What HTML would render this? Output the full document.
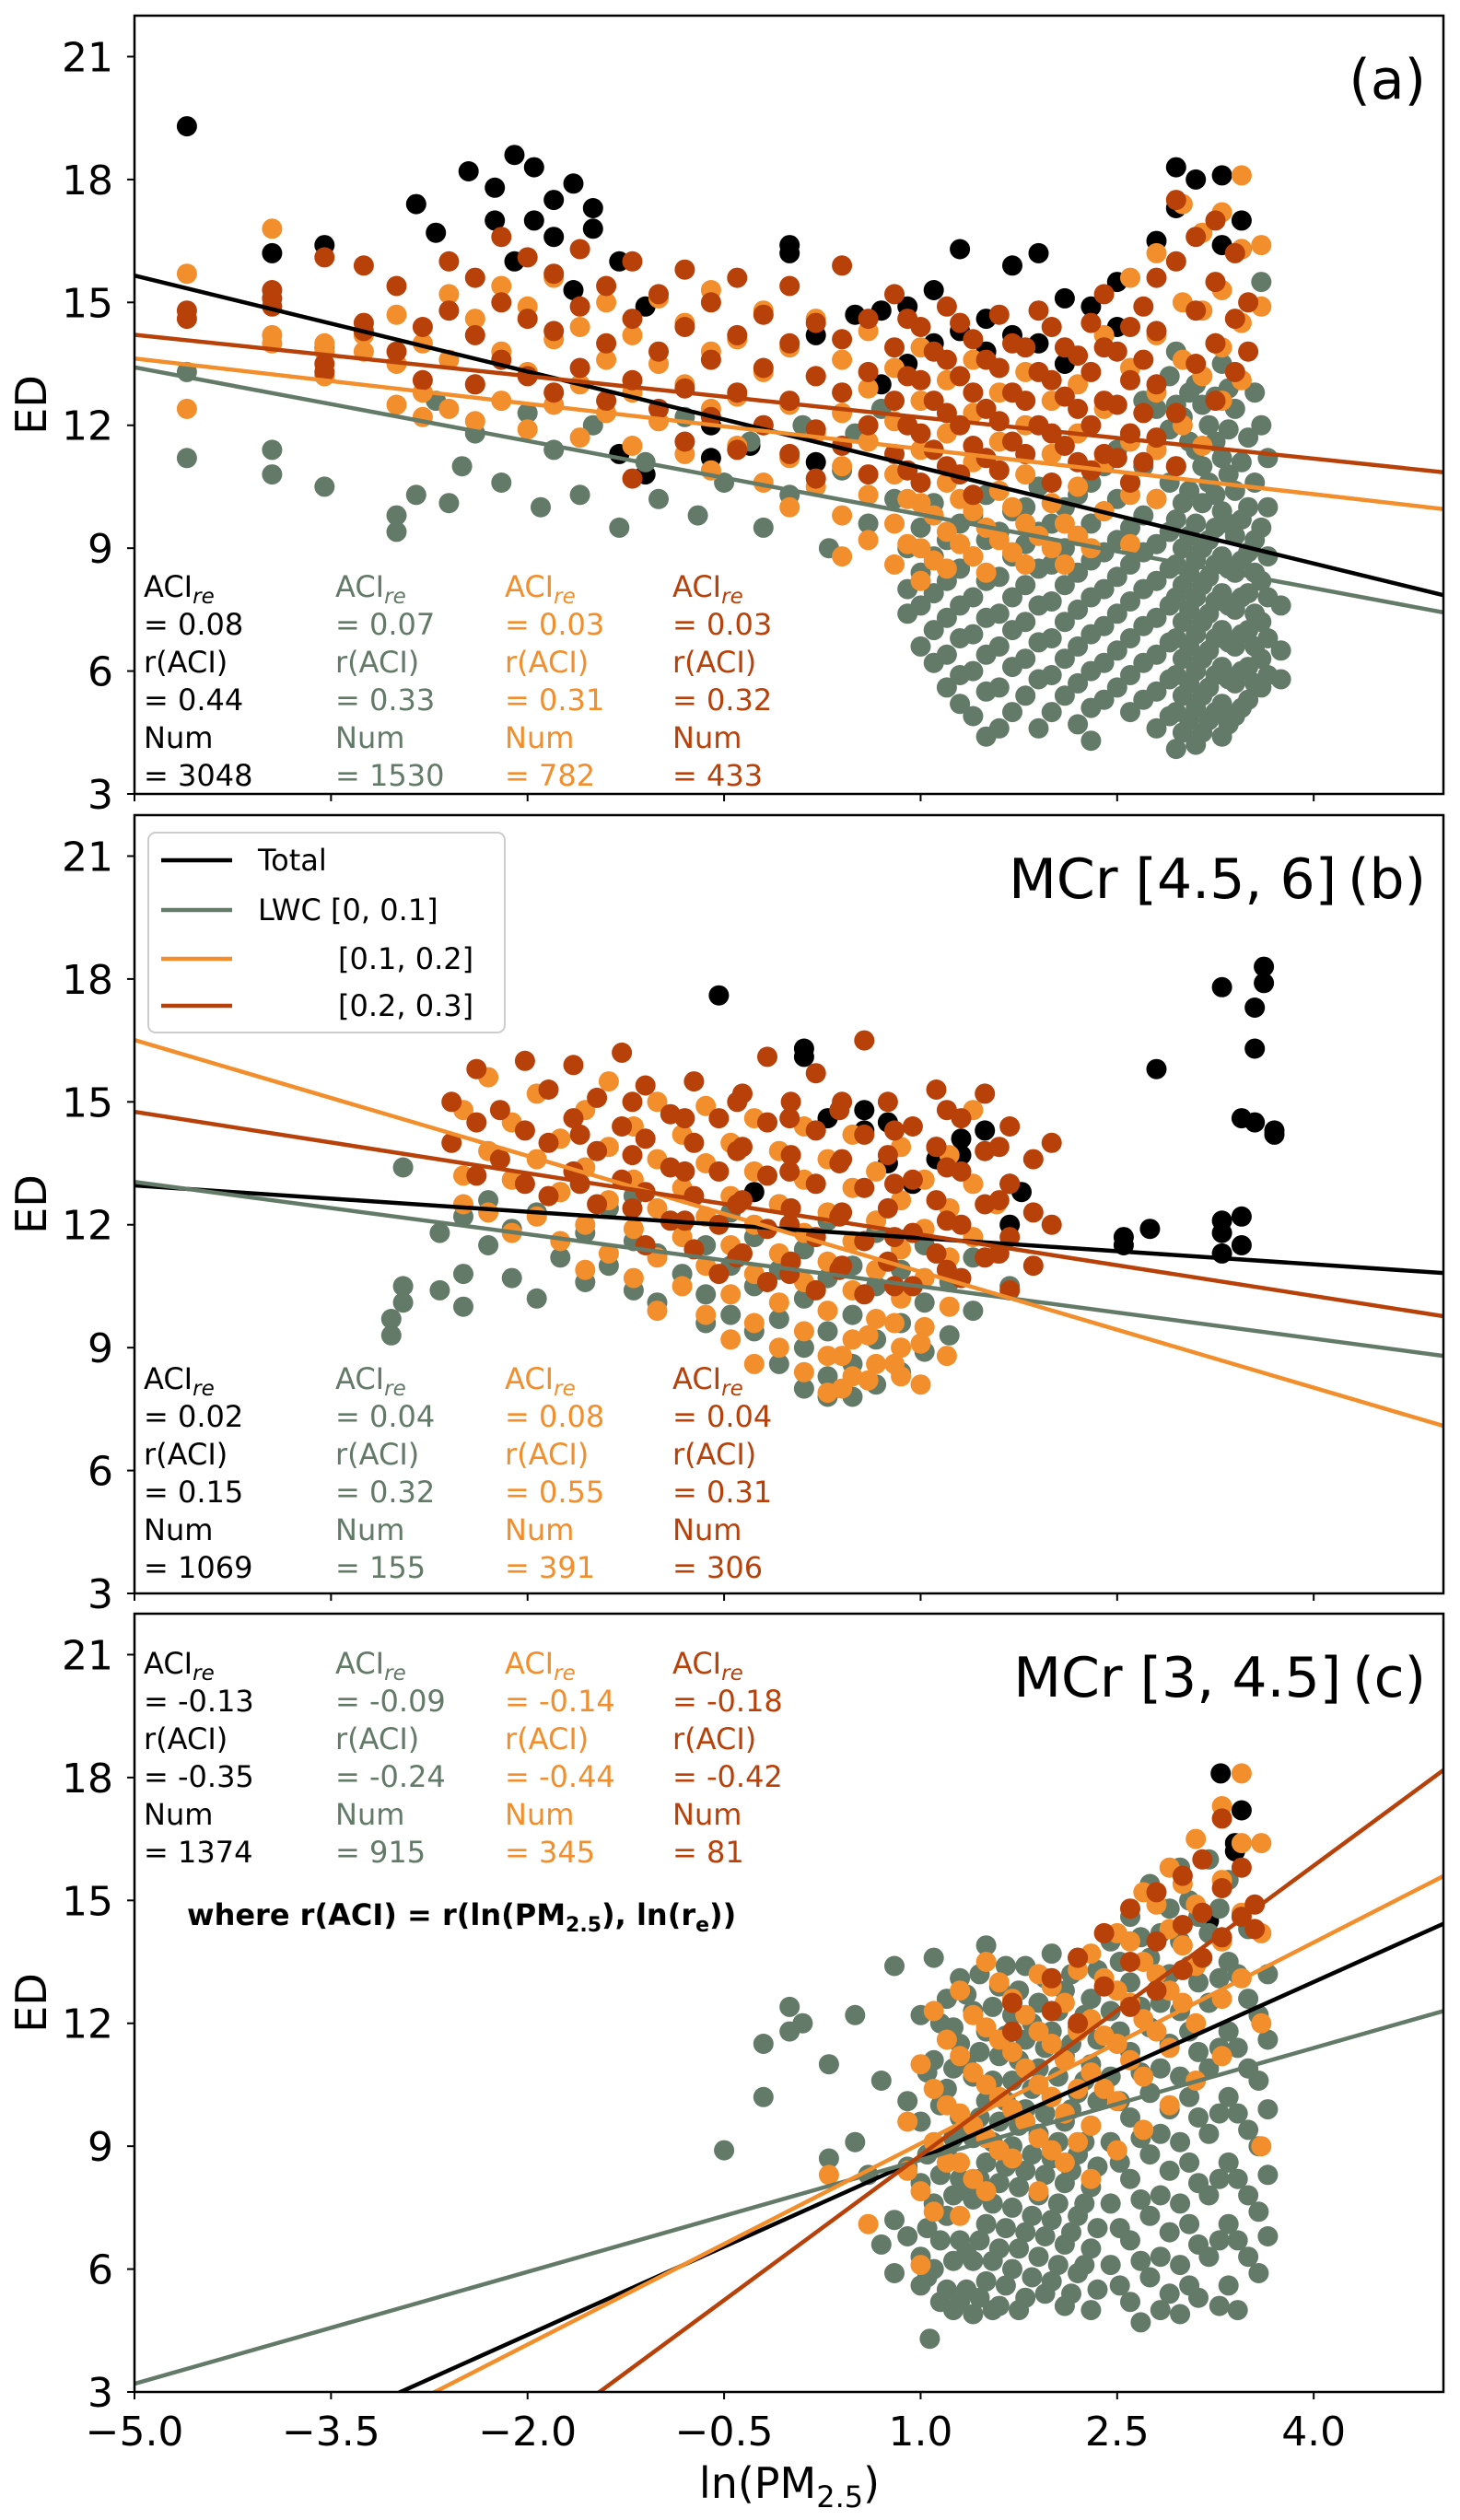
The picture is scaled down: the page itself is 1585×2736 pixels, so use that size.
<!DOCTYPE html>
<html><head><meta charset="utf-8">
<style>
html,body{margin:0;padding:0;background:#fff;overflow:hidden;}
svg{display:block;font-family:"DejaVu Sans","Liberation Sans",sans-serif;}
</style></head>
<body>
<svg id="fig" xmlns="http://www.w3.org/2000/svg" width="1585" height="2736" viewBox="0 0 1585 2736">
<rect x="0" y="0" width="1585" height="2736" fill="#fff"/>
</svg>
<script>
// ---------- data ----------
const xTicks=[-5.0,-3.5,-2.0,-0.5,1.0,2.5,4.0];
const xTickLabels=["\u22125.0","\u22123.5","\u22122.0","\u22120.5","1.0","2.5","4.0"];
const yTicks=[3,6,9,12,15,18,21];
const seriesNames=["Total","LWC [0, 0.1]","[0.1, 0.2]","[0.2, 0.3]"];
const colors=["#000000","#627a67","#f28e2b","#b84009"];

// panel (a) scatter: [x,[y...]]
const aBlack=[[-4.6,[19.3]],[-3.95,[16.2]],[-3.55,[16.4]],[-2.85,[17.4]],[-2.7,[16.7]],[-2.45,[18.2]],[-2.25,[17.8,17.0]],[-2.1,[18.6,16.0]],[-1.95,[18.3,17.0]],[-1.8,[17.5,16.6]],[-1.65,[17.9,15.3]],[-1.5,[17.3,16.8]],[-1.3,[16.0,11.3]],[-1.1,[14.9,10.8]],[-0.6,[11.2,12.0]],[-0.3,[11.5]],[0.0,[16.4,16.2]],[0.2,[14.2,11.1]],[0.5,[14.7]],[0.7,[14.8,13.0]],[0.9,[14.9,13.5]],[1.1,[15.3,14.0]],[1.3,[16.3,14.3]],[1.5,[14.6,13.8]],[1.7,[15.9,14.2]],[1.9,[16.2,14.0]],[2.1,[15.1,13.5]],[2.3,[14.9]],[2.5,[15.5,14.4]],[2.8,[16.5]],[2.95,[18.3,17.3]],[3.1,[18.0]],[3.3,[18.1,16.4]],[3.45,[17.0,16.3]]];
const aGray=[[-4.6,[13.3,11.2]],[-3.95,[11.4,10.8]],[-3.55,[10.5,13.9]],[-3.0,[9.4,9.8]],[-2.85,[10.3]],[-2.7,[12.6]],[-2.6,[10.1]],[-2.5,[11.0]],[-2.4,[11.8]],[-2.2,[10.6]],[-2.0,[12.3]],[-1.9,[10.0]],[-1.8,[11.4]],[-1.6,[10.3]],[-1.5,[12.0]],[-1.3,[9.5]],[-1.1,[11.1]],[-1.0,[10.2]],[-0.8,[12.2]],[-0.7,[9.8]],[-0.5,[10.6]],[-0.3,[11.6]],[-0.2,[9.5]],[0.0,[10.3]],[0.1,[12.0]],[0.3,[9.0]],[0.4,[10.9]],[0.5,[11.8]],[0.6,[9.6]],[0.7,[12.4]],[0.8,[10.2]],[0.9,[9.0,8.0,7.4]],[1.1,[10.1,8.8,7.9,7.0,6.2]],[1.3,[9.6,8.5,7.6,6.8,5.9,5.2]],[1.5,[10.3,9.2,8.2,7.3,6.4,5.5,4.4]],[1.7,[9.9,8.8,7.8,7.0,6.1,5.0]],[1.9,[10.5,9.4,8.5,7.6,6.7,5.8,4.6]],[2.1,[10.0,9.0,8.1,7.2,6.3,5.4]],[2.3,[10.6,9.6,8.7,7.8,6.9,6.0,5.1,4.3]],[2.5,[11.4,10.2,9.2,8.3,7.4,6.5,5.6]],[2.7,[12.6,11.0,9.8,8.9,8.0,7.1,6.2,5.3]],[2.9,[13.2,11.9,10.6,9.4,8.5,7.6,6.7,5.8,4.9]],[3.0,[12.2,10.1,9.0,8.1,7.2,6.3,5.4,4.5]],[3.1,[13.0,11.4,9.6,8.7,7.8,6.9,6.0,5.1,4.2]],[3.2,[12.0,10.6,9.2,8.3,7.4,6.5,5.6,4.8]],[3.3,[13.5,11.2,9.9,8.8,7.9,7.0,6.1,5.2,4.4]],[3.4,[12.4,10.4,9.3,8.4,7.5,6.6,5.7,4.9]],[3.5,[11.7,10.0,8.9,7.9,7.0,6.1,5.3]],[3.6,[15.5,12.0,9.5,8.2,7.2,6.3,5.6]],[3.75,[7.6,6.5,5.8]],
 [1.0,[9.5,8.4,7.6,6.6]],[1.2,[9.2,8.2,7.3,6.4,5.6]],[1.4,[9.8,8.8,7.8,6.9,6.0,4.9]],[1.6,[9.4,8.3,7.4,6.6,5.6,4.6]],[1.8,[10.0,9.1,8.1,7.2,6.3,5.4]],[2.0,[9.6,8.6,7.7,6.8,5.9,5.0]],[2.2,[10.3,9.3,8.4,7.5,6.6,5.7,4.7]],[2.4,[11.0,9.9,8.9,8.0,7.1,6.2,5.3]],[2.6,[11.8,10.6,9.5,8.6,7.7,6.8,5.9,5.0]],[2.8,[12.4,11.4,10.2,9.1,8.2,7.3,6.4,5.5,4.6]],[2.95,[13.8,12.5,11.0,9.7,8.6,7.8,6.8,5.9,5.0,4.1]],[3.05,[12.8,11.6,10.4,9.3,8.4,7.5,6.6,5.7,4.8]],[3.15,[12.5,11.0,10.1,9.0,8.1,7.2,6.3,5.4,4.5]],[3.25,[14.0,12.7,11.6,10.3,9.5,8.6,7.7,6.8,5.9,5.0]],[3.35,[12.9,11.9,10.8,9.6,8.5,7.6,6.7,5.8,4.7]],[3.45,[11.1,9.7,8.7,7.8,6.9,6.0,5.1]],[3.55,[12.8,10.6,9.2,8.4,7.4,6.6,5.7]],[3.65,[11.2,10.0,8.8,7.8,6.8,5.9]]];
const aOrange=[[-4.6,[15.7,12.4]],[-3.95,[16.8,14.2,14.0]],[-3.55,[14.0,13.8,13.2]],[-3.25,[14.2,13.8]],[-3.0,[14.7,13.5,12.5]],[-2.8,[14.0,12.8,12.2]],[-2.6,[15.2,13.6,12.4]],[-2.4,[14.6,13.0,12.1]],[-2.2,[15.4,13.8,12.6]],[-2.0,[14.9,13.3,11.9]],[-1.8,[15.6,14.1,12.5]],[-1.6,[14.4,13.0,11.7]],[-1.4,[15.0,13.6,12.3]],[-1.2,[14.2,12.8,11.5]],[-1.0,[15.1,13.5,12.1]],[-0.8,[14.5,13.0,11.3]],[-0.6,[15.3,13.8,12.4,10.9]],[-0.4,[14.1,12.7,11.5]],[-0.2,[14.8,13.3,12.0,10.6]],[0.0,[13.9,12.5,11.2,10.0]],[0.2,[14.6,13.2,11.8,10.5]],[0.4,[13.6,12.3,11.0,9.8,8.8]],[0.6,[14.3,12.9,11.6,10.3,9.2]],[0.8,[13.4,12.1,10.8,9.6,8.6]],[1.0,[13.9,12.6,11.4,10.1,9.0,8.2]],[1.2,[13.1,11.8,10.6,9.4,8.5]],[1.4,[13.6,12.3,11.1,9.9,8.8]],[1.6,[12.8,11.6,10.4,9.2]],[1.8,[13.3,12.0,10.8,9.6,8.6]],[2.0,[12.6,11.3,10.1,9.0]],[2.2,[13.0,11.8,10.5,9.3]],[2.4,[14.2,12.4,11.1,9.9]],[2.6,[15.6,13.4,11.6,10.3,9.1]],[2.8,[16.2,14.2,12.8,11.4,10.2]],[3.0,[17.4,15.0,13.6,12.0]],[3.15,[16.7,14.8,13.2,11.5]],[3.3,[17.2,15.3,13.9,12.6]],[3.45,[18.1,16.3,14.5,13.1]],[3.6,[16.4,14.9]],
 [0.9,[9.1,10.2]],[1.1,[8.7,9.8]],[1.3,[9.1,10.2]],[1.5,[8.4,9.5]],[1.7,[8.9,10.0]],[1.9,[9.3]],[2.1,[8.6,9.6]],[2.3,[9.0]]];
const aDark=[[-4.6,[14.8,14.6]],[-3.95,[15.3,15.1,14.9]],[-3.55,[16.1,13.5,13.3]],[-3.25,[15.9,14.5,14.3]],[-3.0,[15.4,13.8]],[-2.8,[14.4,13.1]],[-2.6,[16.0,14.8]],[-2.4,[15.6,14.2,13.0]],[-2.2,[16.6,15.0,13.6]],[-2.0,[16.1,14.6,13.2]],[-1.8,[15.7,14.3,12.8]],[-1.6,[16.3,14.9,13.4]],[-1.4,[15.4,14.0,12.6]],[-1.2,[16.0,14.6,13.1,10.7]],[-1.0,[15.2,13.8,12.4]],[-0.8,[15.8,14.4,12.9,11.6]],[-0.6,[15.0,13.6,12.2]],[-0.4,[15.6,14.2,12.8,11.4]],[-0.2,[14.7,13.4,12.0]],[0.0,[15.4,14.0,12.6,11.3]],[0.2,[14.5,13.2,11.9,10.7]],[0.4,[15.9,14.1,12.8,11.5]],[0.6,[14.6,13.3,12.0,10.8]],[0.8,[15.2,13.9,12.6,11.3]],[1.0,[14.4,13.1,11.8,10.6]],[1.2,[14.9,13.6,12.3,11.0]],[1.4,[14.1,12.8,11.5,10.3]],[1.6,[14.7,13.4,12.1,10.9]],[1.8,[13.9,12.6,11.3]],[2.0,[14.4,13.1,11.8,10.6]],[2.2,[13.7,12.4,11.1]],[2.4,[15.2,13.9,12.6,11.3]],[2.6,[14.4,13.1,11.8,10.6]],[2.8,[15.6,14.3,13.0,11.7]],[2.95,[17.5,16.0,12.3,11.0]],[3.1,[16.6,14.8,13.5]],[3.25,[17.0,15.5,14.0,12.6]],[3.4,[16.2,14.6,13.3]],[3.5,[15.0,13.8]],
 [0.9,[14.6,13.2,12.0,10.9]],[1.1,[13.8,12.6,11.4]],[1.3,[14.5,13.2,12.0,10.8]],[1.5,[13.6,12.4,11.2]],[1.7,[14.0,12.8,11.6]],[1.9,[14.8,13.3,12.0]],[2.1,[13.9,12.7,11.5]],[2.3,[14.5,13.3,12.0,10.9]],[2.5,[13.8,12.5,11.2]],[2.7,[14.9,13.6,12.3,11.1]]];

// panel (b)
const bBlack=[[-0.54,[17.6]],[0.11,[16.3,16.1]],[0.29,[14.6]],[0.57,[14.8,14.3]],[0.75,[14.5,13.5]],[1.12,[13.9,13.6]],[1.31,[14.1,13.7]],[1.49,[14.3]],[1.68,[13.0,12.0]],[1.77,[12.8]],[2.8,[15.8]],[2.55,[11.7,11.5]],[2.75,[11.9]],[3.3,[11.8,11.3,12.1,17.8]],[3.45,[14.6,12.2,11.5]],[3.55,[16.3,17.3,14.5]],[3.62,[18.3,17.9]],[3.7,[14.3,14.2]],[-0.27,[12.8]],[0.94,[13.0]]];
const bGray=[[-3.04,[9.7,9.3]],[-2.95,[13.4,10.5,10.1]],[-2.67,[11.8,10.4]],[-2.49,[12.2,10.8,10.0]],[-2.30,[11.5,12.6]],[-2.12,[10.7,11.9]],[-1.93,[12.3,10.2]],[-1.75,[11.2,12.8]],[-1.56,[10.6,11.8]],[-1.38,[12.4,11.0]],[-1.19,[10.4,11.6,12.7]],[-1.01,[11.3,10.1]],[-0.82,[12.0,10.8]],[-0.64,[11.5,10.3,9.6]],[-0.45,[12.3,11.0,9.8]],[-0.27,[11.7,10.5,9.4]],[-0.08,[12.5,10.9,9.7,8.6]],[0.11,[11.4,10.2,9.0,8.0]],[0.29,[12.1,10.7,9.4,8.3,7.8]],[0.48,[11.0,9.8,8.6,7.8]],[0.66,[11.8,10.5,9.2,8.1]],[0.85,[10.9,9.6,8.4]],[1.03,[11.5,10.1,8.9]],[1.22,[10.6,9.3]],[1.40,[11.2,9.9]],[1.68,[10.5]]];
const bOrange=[[-2.49,[14.8,13.2,12.5]],[-2.30,[15.6,13.8,12.3]],[-2.12,[14.5,13.1,11.8]],[-1.93,[15.2,13.6,12.2]],[-1.75,[14.1,12.8,11.6]],[-1.56,[14.8,13.4,12.0,10.9]],[-1.38,[15.5,13.9,12.6,11.3]],[-1.19,[14.4,13.1,11.9,10.7]],[-1.01,[15.0,13.6,12.4,11.2,9.9]],[-0.82,[14.2,12.9,11.7,10.5]],[-0.64,[14.9,13.5,12.2,11.0,9.8]],[-0.45,[14.0,12.7,11.5,10.3,9.2]],[-0.27,[14.6,13.3,12.0,10.8,9.6,8.6]],[-0.08,[13.8,12.5,11.3,10.1,9.0]],[0.11,[14.4,13.1,11.8,10.6,9.4,8.4]],[0.29,[13.6,12.3,11.1,9.9,8.8,7.9]],[0.48,[14.2,12.9,11.6,10.4,9.2,8.3]],[0.66,[13.3,12.1,10.9,9.7,8.6]],[0.85,[13.9,12.6,11.4,10.2,9.0,8.3]],[1.03,[13.1,11.9,10.7,9.5]],[1.22,[13.7,12.4,11.2,10.0]],[1.40,[14.8,13.0,11.7]],[1.58,[12.5,11.3]],
 [0.4,[8.8,8.0]],[0.6,[9.3,8.2]],[0.8,[8.6,9.6]],[1.0,[9.1,8.1]],[1.2,[8.8]]];
const bDark=[[-2.58,[15.0,14.0]],[-2.39,[15.8,14.5,13.2]],[-2.21,[14.8,13.6]],[-2.02,[16.0,14.3,13.0]],[-1.84,[15.3,14.0,12.7]],[-1.65,[15.9,14.6,13.3]],[-1.47,[15.1,13.8,12.5]],[-1.28,[16.2,14.4,13.1]],[-1.10,[15.4,14.1,12.8,11.5]],[-0.91,[14.7,13.4,12.1]],[-0.73,[15.5,14.0,12.7,11.4]],[-0.54,[14.6,13.3,12.0,10.8]],[-0.36,[15.2,13.9,12.6,11.3]],[-0.17,[16.1,14.5,13.2,11.9,10.6]],[0.01,[15.0,13.7,12.4,11.1]],[0.20,[15.7,14.3,13.0,11.7,10.4]],[0.38,[14.8,13.5,12.2,10.9]],[0.57,[16.5,14.2,12.9,11.6,10.3]],[0.75,[15.0,13.7,12.4,11.1]],[0.94,[14.4,13.1,11.8,10.5]],[1.12,[15.3,13.9,12.6,11.3]],[1.31,[14.6,13.3,12.0,10.7]],[1.49,[15.2,13.8,12.5,11.2]],[1.68,[14.4,13.0,11.7,10.4]],[1.86,[13.6,12.3,11.0]],[2.00,[14.0,12.0]],
 [-1.6,[14.2,13.0]],[-1.2,[15.0,13.7,12.4]],[-0.8,[14.6,13.3,12.1]],[-0.4,[15.0,13.8,12.5,11.2]],[0.0,[14.6,13.3,12.0,10.8]],[0.4,[15.0,13.6,12.3,11.0]],[0.8,[14.3,13.0,11.7,10.5]],[1.2,[14.8,13.4,12.1,10.9]],[1.6,[13.9,12.6,11.3]]];

// panel (c)
const cBlack=[[3.29,[18.1]],[3.4,[16.4,16.2]],[3.45,[17.2]],[3.2,[14.5]]];
const cGray=[[-0.5,[8.9]],[-0.2,[11.5,10.2]],[0.0,[12.4,11.8]],[0.1,[12.0]],[0.3,[8.7,11.0]],[0.5,[9.1,12.2]],[0.6,[8.3]],[0.7,[6.6,10.6]],[0.8,[13.4,7.2,5.9]],[0.9,[10.1,8.5,6.8]],[1.0,[12.2,9.6,8.1,6.3,5.6]],[1.07,[4.3]],[1.1,[13.6,11.1,9.0,7.6,6.0]],[1.2,[12.6,10.4,8.8,7.3,5.5]],[1.3,[13.1,11.5,9.7,8.2,6.7,5.2]],[1.4,[12.3,10.7,9.2,7.7,6.2,4.9]],[1.5,[13.9,11.8,10.1,8.6,7.1,5.7]],[1.6,[12.9,11.2,9.6,8.1,6.5,5.1]],[1.7,[12.2,10.6,9.0,7.5,6.0]],[1.8,[13.4,11.6,9.9,8.4,6.9,5.3]],[1.9,[12.5,10.9,9.3,7.8,6.3]],[2.0,[13.7,11.8,10.2,8.7,7.2,5.7]],[2.1,[12.8,11.2,9.6,8.1,6.6,5.1]],[2.2,[13.6,11.9,10.3,8.8,7.3,5.9]],[2.3,[12.6,11.0,9.5,8.0,6.5,5.0]],[2.45,[14.0,12.3,10.7,9.1,7.6,6.1]],[2.6,[14.6,13.0,11.3,9.7,8.2,6.7,5.2]],[2.75,[15.4,13.6,11.9,10.3,8.8,7.3,5.8]],[2.9,[14.8,13.2,11.5,9.9,8.4,6.9,5.4]],[3.05,[15.0,13.4,11.8,10.2,8.6,7.1,5.6]],[3.2,[16.0,14.2,12.5,10.9,9.3,7.8,6.3]],[3.35,[15.5,13.5,11.8,10.2,8.6,7.1,5.6]],[3.5,[14.3,12.6,10.9,9.4,7.8,6.3]],[3.65,[13.2,11.6,9.9,8.3,6.8]],
 [1.05,[10.8,8.8,7.0,5.8]],[1.15,[12.0,10.0,8.3,6.7,5.2]],[1.25,[11.9,10.9,9.2,7.8,6.2,5.0]],[1.35,[12.7,11.0,9.4,7.9,6.4,5.5]],[1.45,[13.2,11.3,9.7,8.2,6.7,5.3]],[1.55,[12.4,10.6,9.1,7.6,6.2,5.0]],[1.65,[13.4,11.7,10.1,8.5,7.0,5.6]],[1.75,[12.8,11.1,9.5,8.0,6.5,5.0]],[1.85,[12.0,10.4,8.8,7.3,5.8]],[1.95,[13.1,11.4,9.8,8.3,6.8,5.4]],[2.05,[12.3,10.7,9.1,7.6,6.1]],[2.15,[13.2,11.5,9.9,8.4,6.9,5.4]],[2.25,[12.2,10.6,9.1,7.6,6.1]],[2.35,[13.3,11.6,10.1,8.5,7.0,5.5]],[2.52,[13.5,11.8,10.1,8.6,7.0,5.6]],[2.68,[14.1,12.4,10.8,9.2,7.7,6.2,4.7]],[2.83,[14.2,12.5,10.9,9.3,7.8,6.3,5.0]],[2.98,[15.8,14.0,12.3,10.7,9.1,7.6,6.1,4.9]],[3.12,[14.6,13.0,11.3,9.7,8.1,6.6,5.3]],[3.28,[14.8,13.1,11.4,9.8,8.2,6.7,5.1]],[3.42,[13.2,11.4,9.8,8.2,6.7,5.0]],[3.58,[12.2,10.6,9.0,7.4,5.9]]];
const cOrange=[[0.3,[8.3]],[0.6,[7.1]],[0.9,[9.6,8.4]],[1.0,[11.0,7.9,6.1]],[1.1,[12.3,10.4,9.1,7.4]],[1.3,[12.8,11.2,9.8,8.6,7.3]],[1.5,[13.5,11.9,10.5,9.2,7.9]],[1.7,[12.6,11.3,9.9,8.7]],[1.9,[13.2,11.8,10.5,9.2,7.9]],[2.1,[12.5,11.1,9.8,8.6]],[2.3,[13.7,12.1,10.8,9.5,8.2]],[2.5,[14.2,12.8,11.5,10.1,8.9]],[2.7,[15.2,13.5,12.1,10.7,9.4]],[2.9,[15.8,14.3,12.8,11.4,10.0]],[3.1,[16.5,14.9,13.4,12.0,10.6]],[3.3,[17.3,15.5,14.0,12.6,11.2]],[3.45,[18.1,16.4,14.7,13.1]],[3.6,[16.4,14.2,12.0,9.0]],
 [1.2,[11.6,10.0,8.6]],[1.4,[12.2,10.8,9.5,8.2]],[1.6,[13.0,11.6,10.2,8.9]],[1.8,[12.2,10.9,9.6]],[2.0,[12.9,11.5,10.2,8.9]],[2.2,[13.3,11.8,10.4,9.1]],[2.4,[13.1,11.7,10.4]],[2.6,[14.0,12.5,11.1]],[2.8,[14.9,13.2,11.8]],[3.0,[15.4,13.9,12.5]]];
const cDark=[[1.7,[12.5,11.8]],[2.0,[13.1,12.3]],[2.2,[12.0,13.6]],[2.4,[14.2,12.9]],[2.6,[14.8,13.5,12.4]],[2.8,[15.2,14.0,12.8]],[3.0,[15.6,14.4,13.3]],[3.15,[16.0,14.7,13.6]],[3.3,[17.0,15.3,14.1]],[3.45,[15.8,14.6]],[3.55,[14.9,14.3]]];

// regression fits: slope, intercept per series (Total, LWC1, LWC2, LWC3)
const aSlope=[-0.781,-0.599,-0.368,-0.336];
const aIntercept=[11.75,10.42,11.79,12.53];
const bSlope=[-0.214,-0.425,-0.943,-0.4995];
const bIntercept=[11.89,10.92,11.795,12.26];
const cSlope=[1.436,0.911,1.636,2.357];
const cIntercept=[7.265,7.755,7.43,6.42];

// stats text
const aStats=[["0.08","0.44","3048"],["0.07","0.33","1530"],["0.03","0.31","782"],["0.03","0.32","433"]];
const bStats=[["0.02","0.15","1069"],["0.04","0.32","155"],["0.08","0.55","391"],["0.04","0.31","306"]];
const cStats=[["-0.13","-0.35","1374"],["-0.09","-0.24","915"],["-0.14","-0.44","345"],["-0.18","-0.42","81"]];

// ---------- drawing ----------
const NS="http://www.w3.org/2000/svg";
const svg=document.getElementById('fig');
const X0=146,X1=1567,XMIN=-5,XMAX=4.99,YMIN=3,YMAX=22;
function sx(v){return X0+(v-XMIN)/(XMAX-XMIN)*(X1-X0);}
function mk(tag,attrs,parent){const e=document.createElementNS(NS,tag);for(const k in attrs)e.setAttribute(k,attrs[k]);(parent||svg).appendChild(e);return e;}

const panels=[
 {key:'a',top:17,bot:862,sc:[aBlack,aGray,aOrange,aDark],sl:aSlope,ic:aIntercept,st:aStats,stY:648,title:'(a)',xlabels:false},
 {key:'b',top:885,bot:1730,sc:[bBlack,bGray,bOrange,bDark],sl:bSlope,ic:bIntercept,st:bStats,stY:1508,title:'MCr [4.5, 6]\u2009(b)',xlabels:false},
 {key:'c',top:1752,bot:2597,sc:[cBlack,cGray,cOrange,cDark],sl:cSlope,ic:cIntercept,st:cStats,stY:1817,title:'MCr [3, 4.5]\u2009(c)',xlabels:true}
];
const statCols=[156,364,548,730];
const seriesKeys=['total','lwc-0-0.1','lwc-0.1-0.2','lwc-0.2-0.3'];

panels.forEach(p=>{
  const sy=v=>p.bot-(v-YMIN)/(YMAX-YMIN)*(p.bot-p.top);
  const g=mk('g',{});
  
  
  const clip=mk('clipPath',{id:'clip'+p.key},g);
  mk('rect',{x:X0,y:p.top,width:X1-X0,height:p.bot-p.top},clip);
  const plot=mk('g',{'clip-path':'url(#clip'+p.key+')'},g);
  p.sc.forEach((cols,si)=>{
    const sg=mk('g',{fill:colors[si]},plot);
    
    
    cols.forEach(c=>{c[1].forEach(yv=>{
      const d=mk('circle',{cx:sx(c[0]).toFixed(1),cy:sy(yv).toFixed(1),r:11},sg);
      
      
    });});
  });
  p.sl.forEach((s,si)=>{
    const l=mk('line',{x1:sx(XMIN),y1:sy(p.ic[si]+s*XMIN),x2:sx(XMAX),y2:sy(p.ic[si]+s*XMAX),stroke:colors[si],'stroke-width':4.5},plot);
    
    
  });
  const fr=mk('rect',{x:X0,y:p.top,width:X1-X0,height:p.bot-p.top,fill:'none',stroke:'#000','stroke-width':2.5},g);
  
  
  yTicks.forEach(t=>{
    mk('line',{x1:X0-8,x2:X0,y1:sy(t),y2:sy(t),stroke:'#000','stroke-width':2},g);
    const tx=mk('text',{x:123,y:sy(t)+16,'text-anchor':'end','font-size':44},g);
    tx.textContent=String(t);
    
    
  });
  xTicks.forEach((t,i)=>{
    mk('line',{x1:sx(t),x2:sx(t),y1:p.bot,y2:p.bot+8,stroke:'#000','stroke-width':2},g);
    if(p.xlabels){
      const tx=mk('text',{x:sx(t),y:p.bot+58,'text-anchor':'middle','font-size':44},g);
      tx.textContent=xTickLabels[i];
      
      
    }
  });
  const cy=(p.top+p.bot)/2;
  const yl=mk('text',{x:50,y:cy,'text-anchor':'middle','font-size':46,transform:'rotate(-90 50 '+cy+')'},g);
  yl.textContent='ED';
  
  
  const tt=mk('text',{x:1548,y:p.top+90,'text-anchor':'end','font-size':60},g);
  tt.textContent=p.title;
  
  
  p.st.forEach((vals,ci)=>{
    const tg=mk('g',{fill:colors[ci],'font-size':32},g);
    
    
    const x=statCols[ci];
    const lines=['ACI','= '+vals[0],'r(ACI)','= '+vals[1],'Num','= '+vals[2]];
    lines.forEach((ln,li)=>{
      const t=mk('text',{x:x,y:p.stY+li*41},tg);
      t.textContent=ln;
      if(li===0){const sub=mk('tspan',{'font-style':'italic','font-size':23,dy:7},t);sub.textContent='re';}
    });
  });
});

(function(){
  const lg=mk('g',{});
  
  
  mk('rect',{x:161,y:904,width:387,height:217,rx:8,fill:'#fff','fill-opacity':0.85,stroke:'#cccccc','stroke-width':2},lg);
  const ys=[934,988,1041,1092];
  const tx=[280,280,367,367];
  const labels=["Total","LWC [0, 0.1]","[0.1, 0.2]","[0.2, 0.3]"];
  labels.forEach((lb,i)=>{
    const e=mk('g',{},lg);
    
    
    mk('line',{x1:175,x2:252,y1:ys[i],y2:ys[i],stroke:colors[i],'stroke-width':4.5},e);
    const t=mk('text',{x:tx[i],y:ys[i]+11,'font-size':32},e);
    t.textContent=lb;
  });
})();

(function(){
  const t=mk('text',{x:203,y:2090,'font-size':32,'font-weight':'bold'});
  
  
  t.appendChild(document.createTextNode('where r(ACI) = r(ln(PM'));
  const s1=mk('tspan',{'font-size':22,dy:7},t);s1.textContent='2.5';
  const s2=mk('tspan',{dy:-7},t);s2.textContent='), ln(r';
  const s3=mk('tspan',{'font-size':22,dy:7},t);s3.textContent='e';
  const s4=mk('tspan',{dy:-7},t);s4.textContent='))';
  const xl=mk('text',{x:857,y:2712,'text-anchor':'middle','font-size':46});
  
  
  xl.appendChild(document.createTextNode('ln(PM'));
  const a=mk('tspan',{'font-size':32,dy:10},xl);a.textContent='2.5';
  const b=mk('tspan',{dy:-10},xl);b.textContent=')';
})();
</script>
</body></html>
